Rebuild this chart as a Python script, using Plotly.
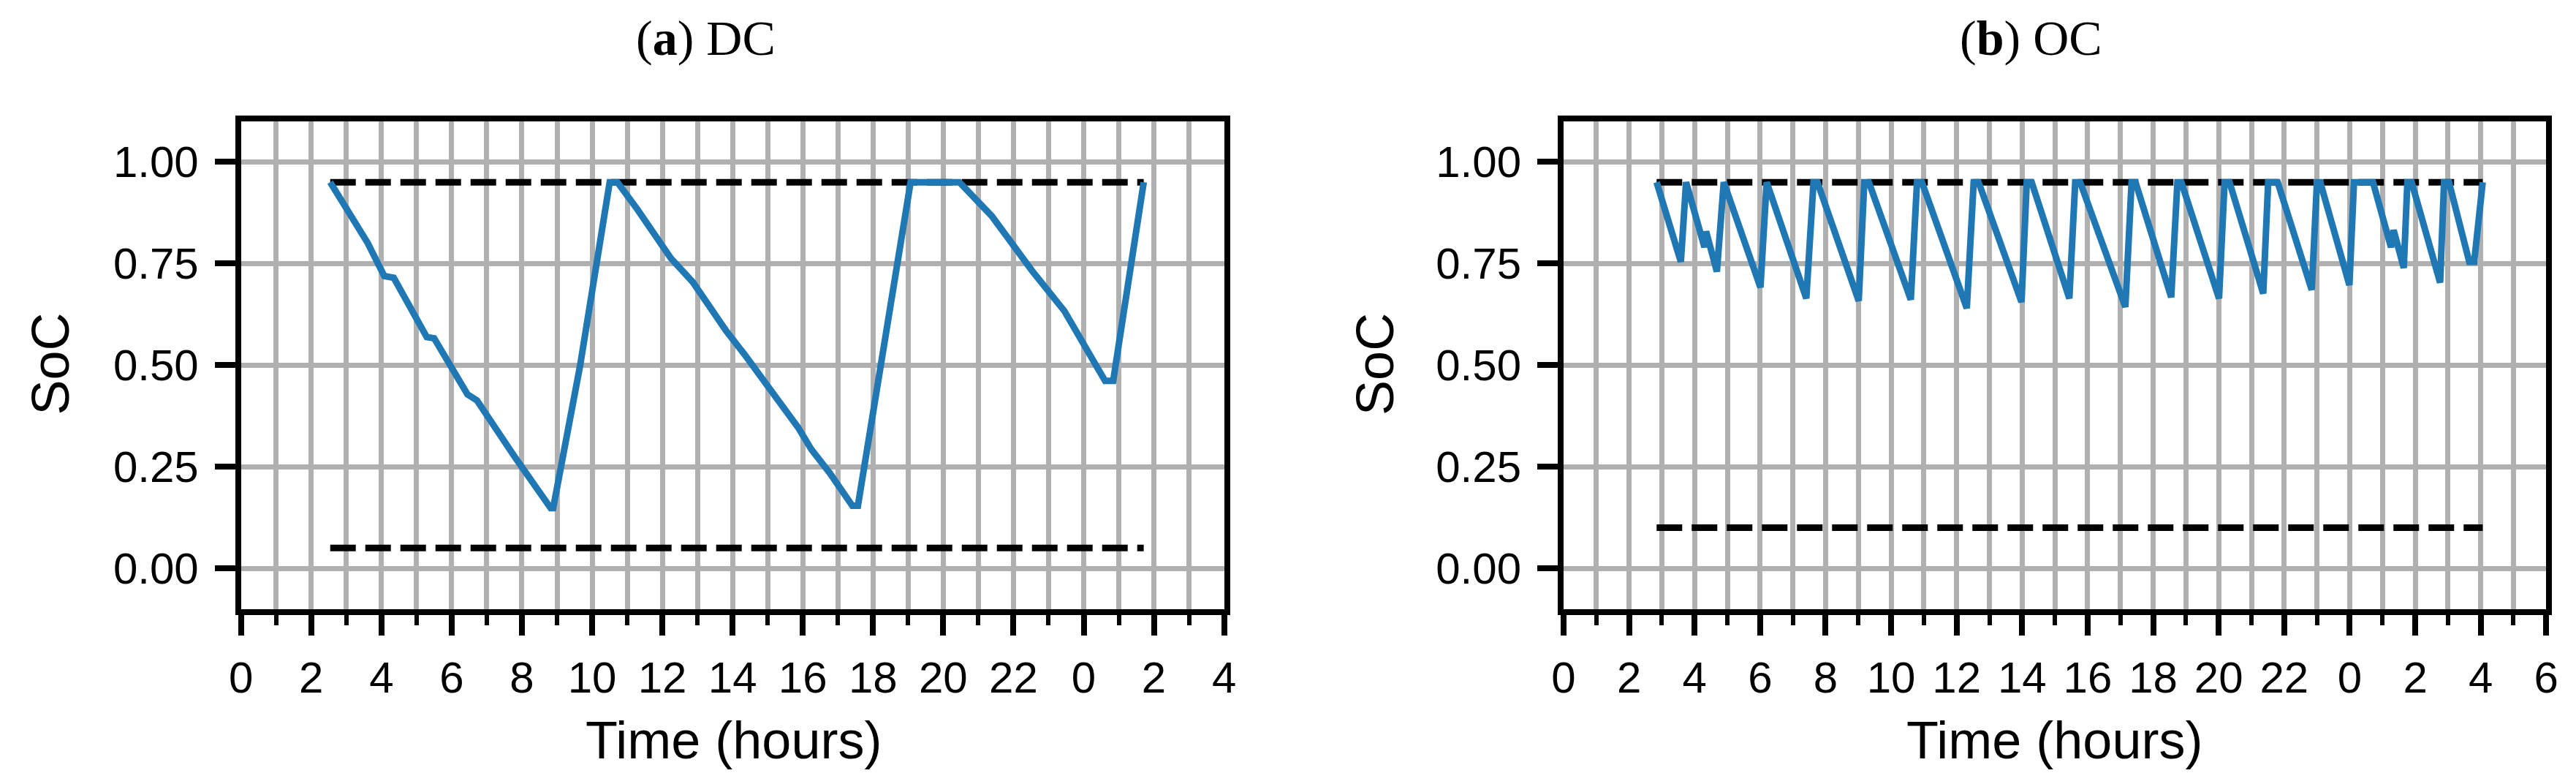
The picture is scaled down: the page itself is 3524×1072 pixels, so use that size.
import plotly.graph_objects as go

# ---------------- data ----------------
# (a) DC : time in hours (continuing past midnight), state of charge
dc_time = [2.54, 3.61, 4.08, 4.35, 5.29, 5.50, 6.45, 6.72, 7.82, 8.82, 8.89,
           9.66, 10.50, 10.72, 11.29, 11.77, 12.24, 12.87, 13.40, 13.82, 14.35,
           14.87, 15.40, 15.87, 16.24, 16.77, 17.41, 17.57, 19.07,
           20.46, 21.38, 22.53, 23.45, 23.92, 24.61, 24.84, 25.07, 25.71]
dc_soc = [0.95, 0.80, 0.719, 0.715, 0.569, 0.566, 0.428, 0.413, 0.271, 0.148, 0.148,
          0.50, 0.95, 0.95, 0.883, 0.823, 0.763, 0.704, 0.637, 0.584, 0.525,
          0.465, 0.405, 0.346, 0.293, 0.234, 0.154, 0.154, 0.95,
          0.95, 0.867, 0.732, 0.633, 0.566, 0.461, 0.461, 0.584, 0.95]
dc_soc_max = 0.95
dc_soc_min = 0.05

# (b) OC
oc_time = [2.84, 3.58, 3.74, 4.30, 4.35, 4.68, 4.89, 6.01, 6.20, 7.41, 7.63, 7.75,
           9.01, 9.18, 9.32, 10.60, 10.79, 10.94, 12.31, 12.52, 12.67, 13.98, 14.14,
           14.29, 15.44, 15.62, 15.77, 17.15, 17.34, 17.46, 18.55, 18.74, 18.86,
           20.01, 20.18, 20.33, 21.36, 21.51, 21.80, 22.84, 23.00, 23.10, 23.99,
           24.13, 24.71, 25.26, 25.34, 25.65, 25.76, 25.89, 26.76, 26.88, 27.03,
           27.65, 27.80, 28.06]
oc_soc = [0.95, 0.754, 0.95, 0.79, 0.829, 0.730, 0.95, 0.691, 0.95, 0.664, 0.95, 0.95,
          0.658, 0.95, 0.95, 0.661, 0.95, 0.95, 0.640, 0.95, 0.95, 0.655, 0.95,
          0.95, 0.664, 0.95, 0.95, 0.643, 0.95, 0.95, 0.667, 0.95, 0.95,
          0.664, 0.95, 0.95, 0.676, 0.95, 0.95, 0.685, 0.95, 0.95, 0.697,
          0.95, 0.95, 0.79, 0.832, 0.739, 0.95, 0.95, 0.703, 0.95, 0.95,
          0.754, 0.754, 0.95]
oc_soc_max = 0.95
oc_soc_min = 0.10

dc_tick_vals = [0, 2, 4, 6, 8, 10, 12, 14, 16, 18, 20, 22, 24, 26, 28]
dc_tick_labels = ["0", "2", "4", "6", "8", "10", "12", "14", "16", "18", "20", "22", "0", "2", "4"]
oc_tick_vals = [0, 2, 4, 6, 8, 10, 12, 14, 16, 18, 20, 22, 24, 26, 28, 30]
oc_tick_labels = ["0", "2", "4", "6", "8", "10", "12", "14", "16", "18", "20", "22", "0", "2", "4", "6"]
y_tick_vals = [0.0, 0.25, 0.5, 0.75, 1.0]

titles = ["(<b>a</b>) DC", "(<b>b</b>) OC"]
x_title = "Time (hours)"
y_title = "SoC"

# ---------------- style ----------------
W, H = 3524, 1072
BLUE = "#1f77b4"
GRID = "#b0b0b0"
SANS = "Liberation Sans"
SERIF = "Liberation Serif"
LW = 9

fig = go.Figure()

def add_panel(idx, t, s, smax, smin):
    xa = "x" if idx == 1 else "x2"
    ya = "y" if idx == 1 else "y2"
    x0, x1 = t[0], t[-1]
    for lvl in (smax, smin):
        fig.add_trace(go.Scatter(x=[x0, x1], y=[lvl, lvl], mode="lines",
                                 line=dict(color="black", width=LW, dash="35px,13px"),
                                 xaxis=xa, yaxis=ya, showlegend=False, hoverinfo="skip"))
    fig.add_trace(go.Scatter(x=t, y=s, mode="lines",
                             line=dict(color=BLUE, width=LW),
                             xaxis=xa, yaxis=ya, showlegend=False))

add_panel(1, dc_time, dc_soc, dc_soc_max, dc_soc_min)
add_panel(2, oc_time, oc_soc, oc_soc_max, oc_soc_min)

def xaxis_cfg(dom, rng, vals, labels, anchor):
    return dict(domain=dom, range=rng, anchor=anchor,
                tickmode="array", tickvals=vals, ticktext=labels,
                ticks="outside", ticklen=28, tickwidth=8, tickcolor="black",
                showline=True, linewidth=8, linecolor="black", mirror=True,
                showgrid=True, gridcolor=GRID, gridwidth=7, zeroline=False,
                tickfont=dict(family=SANS, size=60, color="black"),
                ticklabelstandoff=6,
                minor=dict(tickmode="linear", tick0=0, dtick=1, ticks="outside",
                           ticklen=14, tickwidth=6, tickcolor="black",
                           showgrid=True, gridcolor=GRID, gridwidth=7))

def yaxis_cfg(dom, anchor):
    return dict(domain=dom, range=[-0.1, 1.1], anchor=anchor,
                tickmode="array", tickvals=y_tick_vals, tickformat=".2f",
                ticks="outside", ticklen=28, tickwidth=8, tickcolor="black",
                showline=True, linewidth=8, linecolor="black", mirror=True,
                showgrid=True, gridcolor=GRID, gridwidth=7, zeroline=False,
                tickfont=dict(family=SANS, size=60, color="black"),
                ticklabelstandoff=10)

ydom = [1 - 824.6 / H, 1 - 157.8 / H]
x1dom = [307.7 / W, 1665.7 / W]
x2dom = [2134.6 / W, 3492.0 / W]

fig.update_layout(
    width=W, height=H,
    margin=dict(l=0, r=0, t=0, b=0),
    paper_bgcolor="white", plot_bgcolor="white",
    xaxis=xaxis_cfg(x1dom, [0, 28], dc_tick_vals, dc_tick_labels, "y"),
    yaxis=yaxis_cfg(ydom, "x"),
    xaxis2=xaxis_cfg(x2dom, [0, 30], oc_tick_vals, oc_tick_labels, "y2"),
    yaxis2=yaxis_cfg(ydom, "x2"),
)

ann = []
# subplot titles
for cx, txt in ((950, titles[0]), (2780, titles[1])):
    ann.append(dict(text=txt, x=cx / W, y=1 - 4 / H, xref="paper", yref="paper",
                    xanchor="center", yanchor="top", showarrow=False,
                    font=dict(family=SERIF, size=68, color="black")))
# axis titles
for cx in (988, 2813):
    ann.append(dict(text=x_title, x=cx / W, y=1 - 1004 / H, xref="paper", yref="paper",
                    xanchor="center", yanchor="middle", showarrow=False,
                    font=dict(family=SANS, size=72, color="black")))
for cx in (44, 1874):
    ann.append(dict(text=y_title, x=cx / W, y=1 - 490 / H, xref="paper", yref="paper",
                    xanchor="center", yanchor="middle", showarrow=False, textangle=-90,
                    font=dict(family=SANS, size=72, color="black")))
fig.update_layout(annotations=ann)

fig.write_html("out.html")
